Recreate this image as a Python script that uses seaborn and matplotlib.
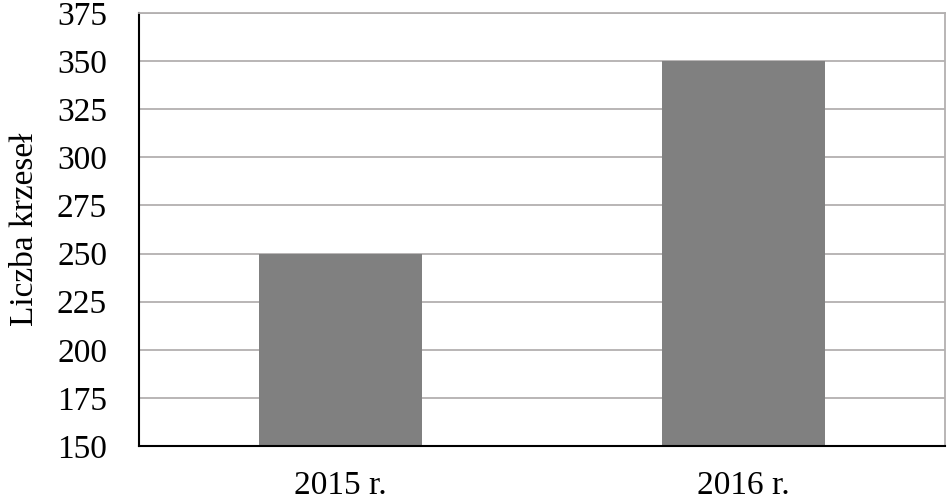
import pandas as pd
import matplotlib.pyplot as plt
import seaborn as sns

# chart values
years = ['2015 r.', '2016 r.']
chairs = [250, 350]
y_ticks = [150, 175, 200, 225, 250, 275, 300, 325, 350, 375]

df = pd.DataFrame({'rok': years, 'krzesla': chairs})

sns.set_theme(style='white')
plt.rcParams['font.family'] = ['Liberation Serif', 'DejaVu Serif']

fig = plt.figure(figsize=(9.47, 5.0), dpi=100)
ax = fig.add_axes([0.1468, 0.108, 0.851, 0.866])

sns.barplot(data=df, x='rok', y='krzesla', color='#808080', saturation=1,
            width=0.405, linewidth=0, ax=ax, zorder=2)

ax.set_ylim(150, 375)
ax.set_yticks(y_ticks)
ax.yaxis.grid(True, color='#b3b0b0', linewidth=1.3, zorder=0)
ax.set_axisbelow(True)

ax.set_xlabel('')
ax.set_ylabel('Liczba krzeseł', fontsize=24, color='black', labelpad=12)
ax.tick_params(axis='both', labelsize=24, colors='black', length=0)
ax.tick_params(axis='y', pad=23)
ax.tick_params(axis='x', pad=18)

for side in ['left', 'bottom']:
    ax.spines[side].set_color('black')
    ax.spines[side].set_linewidth(1.5)
for side in ['top', 'right']:
    ax.spines[side].set_color('#b3b0b0')
    ax.spines[side].set_linewidth(1.3)

fig.savefig('out.png', dpi=100)
